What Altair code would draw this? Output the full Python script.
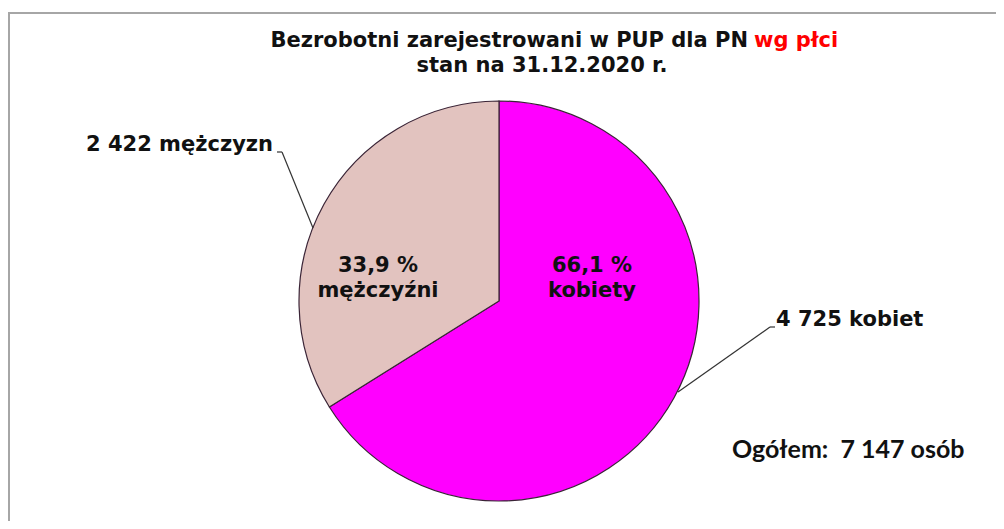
import altair as alt
import pandas as pd

# ---- data ----
categories = ["kobiety", "mężczyźni"]
values = [4725, 2422]
percent_labels = ["66,1 %\nkobiety", "33,9 %\nmężczyźni"]
count_labels = ["4 725 kobiet", "2 422 mężczyzn"]
total_label = "Ogółem:\u00a0 7 147 osób"
title_black = "Bezrobotni zarejestrowani w PUP dla PN"
title_red = "wg płci"
subtitle = "stan na 31.12.2020 r."
colors = ["#FF00FF", "#E2C3BF"]

W, H = 988, 513
CX, CY, R = 491, 293, 200

df = pd.DataFrame({"category": categories, "value": values, "idx": [0, 1],
                   "pct": percent_labels, "cnt": count_labels})

base = alt.Chart(df)

pie = base.mark_arc(outerRadius=R, stroke="#3a2436", strokeWidth=1.2).encode(
    theta=alt.Theta("value:Q", stack=True),
    color=alt.Color("category:N", scale=alt.Scale(domain=categories, range=colors), legend=None),
    order=alt.Order("idx:Q"),
    x=alt.value(CX), y=alt.value(CY),
)

FONT = "DejaVu Sans"

def txt(s, x, y, size=20, align="center", color="#111", font=FONT, weight="bold"):
    return alt.Chart(pd.DataFrame({"t": [s]})).mark_text(
        align=align, baseline="middle", fontSize=size, font=font, fontWeight=weight,
        color=color, lineBreak="\n", lineHeight=25,
    ).encode(text="t:N", x=alt.value(x), y=alt.value(y))

def lab(idx, field, x, y, align, size):
    return base.transform_filter(alt.datum.idx == idx).mark_text(
        align=align, baseline="middle", fontSize=size, font=FONT, fontWeight="bold",
        color="#111", lineBreak="\n", lineHeight=25).encode(
        text=f"{field}:N", x=alt.value(x), y=alt.value(y))

inner_k = lab(0, "pct", 584, 258, "center", 21)
inner_m = lab(1, "pct", 370, 258, "center", 21)
outer_m = lab(1, "cnt", 265, 137, "right", 21)
outer_k = lab(0, "cnt", 768, 312, "left", 21)

def seg(x1, y1, x2, y2, color="#333", w=1.2):
    return alt.Chart(pd.DataFrame({"a": [0]})).mark_rule(color=color, strokeWidth=w).encode(
        x=alt.value(x1), y=alt.value(y1), x2=alt.value(x2), y2=alt.value(y2))

leaders = [
    seg(269, 144, 274, 144), seg(274, 144, 305, 220),
    seg(670, 384, 762, 319), seg(762, 319, 767, 319),
]

title1 = txt(title_black, 740, 33, size=21, align="right")
title1r = txt(title_red, 746, 33, size=21, align="left", color="#FF0000")
title2 = txt(subtitle, 534, 58, size=21)
total = txt(total_label, 724, 442, size=25, align="left", font="Lato")

border = [
    seg(1, 4, 1, H, color="#a6a6a6", w=2),
    seg(0, 5, W, 5, color="#a6a6a6", w=2),
]

chart = alt.layer(pie, inner_k, inner_m, outer_m, outer_k, *leaders,
                  title1, title1r, title2, total, *border).properties(
    width=W, height=H, autosize=alt.AutoSizeParams(type="none"), padding=0,
).configure_view(stroke=None)

chart.save("out.html", embed_options={"renderer": "svg", "actions": False})
